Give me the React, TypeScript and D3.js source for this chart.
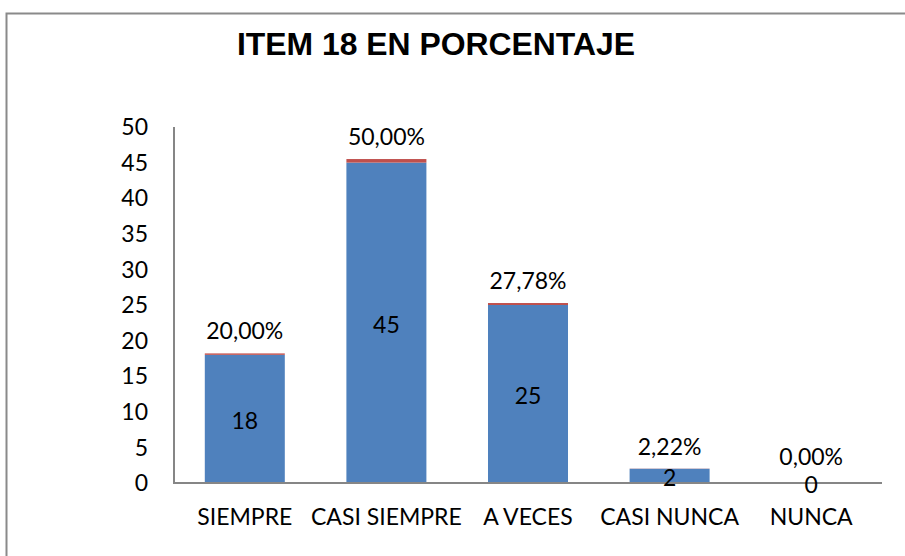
import React, { useEffect, useRef } from "react";
import * as d3 from "d3";

const categories = ["SIEMPRE", "CASI SIEMPRE", "A VECES", "CASI NUNCA", "NUNCA"];
const counts = [18, 45, 25, 2, 0];
const percents = [0.2, 0.5, 0.2778, 0.0222, 0];
const percentLabels = ["20,00%", "50,00%", "27,78%", "2,22%", "0,00%"];
const yTicks = [0, 5, 10, 15, 20, 25, 30, 35, 40, 45, 50];
const title = "ITEM 18 EN PORCENTAJE";

const W = 905;
const H = 556;
const FONT = "Lato, 'Open Sans', sans-serif";

export default function App() {
  const ref = useRef<SVGSVGElement>(null);

  useEffect(() => {
    const svg = d3.select(ref.current);
    svg.selectAll("*").remove();

    const x0 = 174, x1 = 882, yTop = 127, yBottom = 483;
    const x = d3.scaleBand<string>().domain(categories).range([x0, x1]).paddingInner(0.435).paddingOuter(0.2175);
    const y = d3.scaleLinear().domain([0, 50]).range([yBottom, yTop]);

    // outer frame
    svg.append("rect")
      .attr("x", 6.5).attr("y", 13.5).attr("width", W).attr("height", H)
      .attr("fill", "white").attr("stroke", "#8a8a8a").attr("stroke-width", 2);

    // title
    svg.append("text")
      .attr("x", 436).attr("y", 55)
      .attr("text-anchor", "middle")
      .attr("font-family", "'Liberation Sans', Arial, sans-serif")
      .attr("font-weight", "bold")
      .attr("font-size", 31)
      .attr("textLength", 398)
      .attr("lengthAdjust", "spacingAndGlyphs")
      .text(title);

    // y tick labels
    svg.append("g").selectAll("text").data(yTicks).join("text")
      .attr("x", 148).attr("y", (d) => y(d))
      .attr("dy", "0.36em")
      .attr("text-anchor", "end")
      .attr("font-family", FONT).attr("font-size", 23)
      .attr("fill", "#000")
      .text((d) => String(d));

    // bars: counts (blue)
    const g = svg.append("g");
    g.selectAll("rect.count").data(categories).join("rect")
      .attr("class", "count")
      .attr("x", (d) => x(d)!)
      .attr("width", x.bandwidth())
      .attr("y", (_, i) => y(counts[i]))
      .attr("height", (_, i) => yBottom - y(counts[i]))
      .attr("fill", "#4F81BD");

    // stacked percents (red)
    g.selectAll("rect.pct").data(categories).join("rect")
      .attr("class", "pct")
      .attr("x", (d) => x(d)!)
      .attr("width", x.bandwidth())
      .attr("y", (_, i) => y(counts[i] + percents[i]))
      .attr("height", (_, i) => y(counts[i]) - y(counts[i] + percents[i]))
      .attr("fill", "#C0504D");

    // axes lines
    svg.append("line")
      .attr("x1", x0).attr("x2", x0).attr("y1", yTop).attr("y2", yBottom)
      .attr("stroke", "#868686").attr("stroke-width", 2);
    svg.append("line")
      .attr("x1", x0 - 1).attr("x2", x1).attr("y1", yBottom).attr("y2", yBottom)
      .attr("stroke", "#868686").attr("stroke-width", 2);

    // count labels (centered in blue bars)
    svg.append("g").selectAll("text").data(categories).join("text")
      .attr("x", (d) => x(d)! + x.bandwidth() / 2)
      .attr("y", (_, i) => (y(counts[i]) + yBottom) / 2 + 2)
      .attr("dy", "0.36em")
      .attr("text-anchor", "middle")
      .attr("font-family", FONT).attr("font-size", 23)
      .text((_, i) => String(counts[i]));

    // percent labels above
    svg.append("g").selectAll("text").data(categories).join("text")
      .attr("x", (d) => x(d)! + x.bandwidth() / 2)
      .attr("y", (_, i) => y(counts[i] + percents[i]) - 14 - (counts[i] === 0 ? 4 : 0))
      .attr("text-anchor", "middle")
      .attr("font-family", FONT).attr("font-size", 23)
      .text((_, i) => percentLabels[i]);

    // category labels
    svg.append("g").selectAll("text").data(categories).join("text")
      .attr("x", (d) => x(d)! + x.bandwidth() / 2)
      .attr("y", 525)
      .attr("text-anchor", "middle")
      .attr("font-family", FONT).attr("font-size", 23)
      .text((d) => d);
  }, []);

  return (
    <svg
      ref={ref}
      width={W}
      height={H}
      style={{ position: "absolute", left: 0, top: 0, background: "white" }}
    />
  );
}
